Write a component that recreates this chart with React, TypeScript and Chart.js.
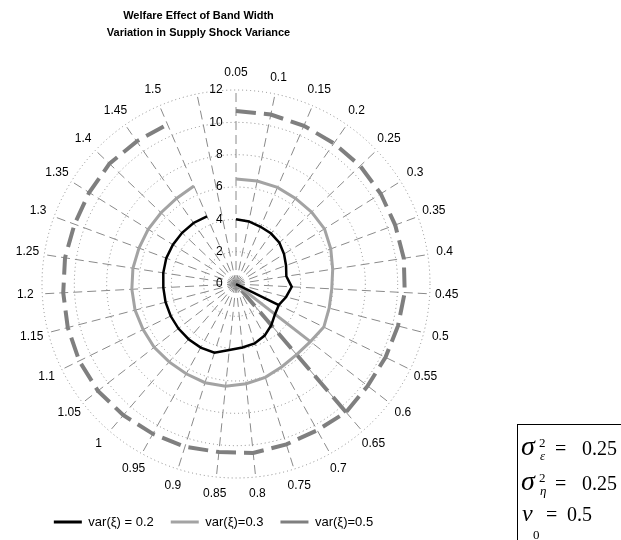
import React, { useEffect, useRef } from 'react';
import { Chart, registerables } from 'chart.js';

Chart.register(...registerables);

// ---------- data ----------
const bandWidthLabels = [
  '0.05', '0.1', '0.15', '0.2', '0.25', '0.3', '0.35', '0.4', '0.45', '0.5',
  '0.55', '0.6', '0.65', '0.7', '0.75', '0.8', '0.85', '0.9', '0.95', '1',
  '1.05', '1.1', '1.15', '1.2', '1.25', '1.3', '1.35', '1.4', '1.45', '1.5',
];
const gapLabel = '';
const radialMax = 12;
const radialStep = 2;

const welfareVar02 = [
  4.0, 3.95, 3.85, 3.8, 3.7, 3.5, 3.3, 3.15, 3.45, 3.2,
  2.95, 3.05, 3.35, 3.65, 3.85, 3.95, 4.1, 4.45, 4.5, 4.5,
  4.5, 4.5, 4.5, 4.5, 4.55, 4.6, 4.6, 4.6, 4.6, 4.55,
];
const welfareVar03 = [
  6.5, 6.5, 6.5, 6.45, 6.45, 6.45, 6.25, 6.05, 5.93, 5.95,
  6.05, 5.82, 5.75, 5.85, 6.05, 6.2, 6.35, 6.4, 6.35, 6.35,
  6.4, 6.4, 6.45, 6.45, 6.45, 6.4, 6.4, 6.4, 6.45, 6.6,
];
const welfareVar05 = [
  10.7, 10.7, 10.65, 10.6, 10.6, 10.55, 10.5, 10.5, 10.45, 10.35,
  10.3, 10.3, 10.45, 10.35, 10.4, 10.5, 10.45, 10.55, 10.6, 10.7,
  10.8, 10.8, 10.75, 10.7, 10.7, 10.65, 10.7, 10.8, 10.75, 10.75,
];
const optimumIndex02 = 10;
const optimumIndex03 = 11;
const optimumIndex05 = 12;

const seriesNames = ['var(ξ) = 0.2', 'var(ξ)=0.3', 'var(ξ)=0.5'];
const titleLines = ['Welfare Effect of Band Width', 'Variation in Supply Shock Variance'];

// ---------- styles ----------
const FONT = "'Liberation Sans', Arial, Helvetica, sans-serif";
const SERIF = "'Liberation Serif', 'Times New Roman', Times, serif";
const COLORS = ['#000000', '#a3a3a3', '#7f7f7f'];
const WIDTHS = [2.5, 3, 4];
const DASH_LONG = [20, 8];
const LABEL_SIZE = 12;
const LABEL_GAP = 17; // distance of label centres beyond the outer ring

const labels = [...bandWidthLabels, gapLabel];
const withGap = (vals: number[]) => [...vals, null];
const spike = (vals: number[], k: number) =>
  labels.map((_, i) => (i === k ? vals[k] : i === k + 1 ? 0 : null));

// angular labels centred on a circle just outside the outer ring (MATLAB polar style)
const polarLabels = {
  id: 'polarLabels',
  afterDatasetsDraw(chart: any) {
    const scale = chart.scales.r;
    if (!scale) return;
    const ctx = chart.ctx;
    ctx.save();
    ctx.font = `${LABEL_SIZE}px ${FONT}`;
    ctx.fillStyle = '#000';
    ctx.textAlign = 'center';
    ctx.textBaseline = 'middle';
    (chart.data.labels as string[]).forEach((lab, i) => {
      if (!lab) return;
      const p = scale.getPointPosition(i, scale.drawingArea + LABEL_GAP);
      ctx.fillText(lab, p.x, p.y);
    });
    ctx.restore();
  },
};

const placeBoxes = {
  id: 'placeBoxes',
  afterLayout(chart: any) {
    const t = chart.titleBlock;
    if (t) {
      t.left = 0;
      t.right = 397;
    }
    const l = chart.legend;
    if (l) {
      const h = l.height;
      l.left = 0;
      l.right = 427;
      l.top = 498.5;
      l.bottom = 498.5 + h;
    }
  },
};

export default function App() {
  const ref = useRef<HTMLCanvasElement>(null);

  useEffect(() => {
    const canvas = ref.current;
    if (!canvas) return;
    const mk = (data: any[], i: number, label: string) => ({
      label,
      data,
      borderColor: COLORS[i],
      backgroundColor: COLORS[i],
      borderWidth: WIDTHS[i],
      borderDash: i === 2 ? DASH_LONG : [],
      pointRadius: 0,
      pointHoverRadius: 0,
      fill: false,
      tension: 0,
      spanGaps: false,
    });
    const chart = new Chart(canvas, {
      type: 'radar',
      data: {
        labels,
        datasets: [
          mk(withGap(welfareVar02), 0, seriesNames[0]),
          mk(spike(welfareVar02, optimumIndex02), 0, 'opt 0.2'),
          mk(withGap(welfareVar03), 1, seriesNames[1]),
          mk(spike(welfareVar03, optimumIndex03), 1, 'opt 0.3'),
          mk(withGap(welfareVar05), 2, seriesNames[2]),
          mk(spike(welfareVar05, optimumIndex05), 2, 'opt 0.5'),
        ],
      },
      options: {
        responsive: false,
        maintainAspectRatio: false,
        animation: false,
        devicePixelRatio: 1,
        events: [],
        layout: { padding: { left: 42, right: 191, top: 0, bottom: 22 } },
        scales: {
          r: {
            min: -0.001,
            max: radialMax,
            startAngle: 0,
            ticks: {
              stepSize: radialStep,
              showLabelBackdrop: false,
              backdropPadding: -6,
              color: '#000',
              font: { family: FONT, size: 12 },
              callback: (v: any) => {
                const s = String(Math.round(Number(v)));
                return s + ' '.repeat(s.length > 1 ? 12 : 10);
              },
            },
            grid: { circular: true, color: '#8a8a8a', lineWidth: 1 },
            border: { dash: [1, 3] },
            angleLines: { display: true, color: '#8a8a8a', lineWidth: 1, borderDash: [9, 5] },
            pointLabels: { display: false },
          },
        },
        plugins: {
          tooltip: { enabled: false },
          title: {
            display: true,
            text: titleLines,
            color: '#000',
            font: { family: FONT, size: 11, weight: 'bold', lineHeight: 1.5 },
            padding: { top: 8, bottom: 49 },
          },
          legend: {
            display: true,
            position: 'bottom',
            labels: {
              boxWidth: 28,
              boxHeight: 3,
              padding: 17,
              color: '#000',
              font: { family: FONT, size: 13 },
              generateLabels: () =>
                seriesNames.map((text, i) => ({
                  text,
                  fillStyle: COLORS[i],
                  strokeStyle: COLORS[i],
                  lineWidth: 0,
                  hidden: false,
                  datasetIndex: i * 2,
                  fontColor: '#000',
                })),
            },
          },
        },
      } as any,
      plugins: [placeBoxes, polarLabels],
    });
    return () => chart.destroy();
  }, []);

  const abs = (left: number, top: number, size: number, italic = false): React.CSSProperties => ({
    position: 'absolute',
    left,
    top,
    fontSize: size,
    lineHeight: 1,
    fontStyle: italic ? 'italic' : 'normal',
    whiteSpace: 'nowrap',
  });

  return (
    <div style={{ position: 'absolute', left: 0, top: 0, width: 621, height: 540, overflow: 'hidden', background: '#fff' }}>
      <canvas ref={ref} width={621} height={540} style={{ display: 'block' }} />
      <div
        style={{
          position: 'absolute',
          left: 517,
          top: 424,
          width: 140,
          height: 150,
          borderLeft: '1px solid #000',
          borderTop: '1px solid #000',
          fontFamily: SERIF,
          color: '#000',
        }}
      >
        <span style={abs(3, 6.6, 28, true)}>σ</span>
        <span style={abs(21, 11.1, 13)}>2</span>
        <span style={abs(22, 24.1, 13, true)}>ε</span>
        <span style={abs(37, 13.25, 20)}>=</span>
        <span style={abs(64, 13.25, 20)}>0.25</span>

        <span style={abs(3, 41.6, 28, true)}>σ</span>
        <span style={abs(21, 46.1, 13)}>2</span>
        <span style={abs(22, 59.1, 13, true)}>η</span>
        <span style={abs(37, 48.25, 20)}>=</span>
        <span style={abs(64, 48.25, 20)}>0.25</span>

        <span style={abs(4, 75.9, 24, true)}>v</span>
        <span style={abs(15, 103, 13)}>0</span>
        <span style={abs(28, 79.25, 20)}>=</span>
        <span style={abs(49, 79.25, 20)}>0.5</span>
      </div>
    </div>
  );
}
